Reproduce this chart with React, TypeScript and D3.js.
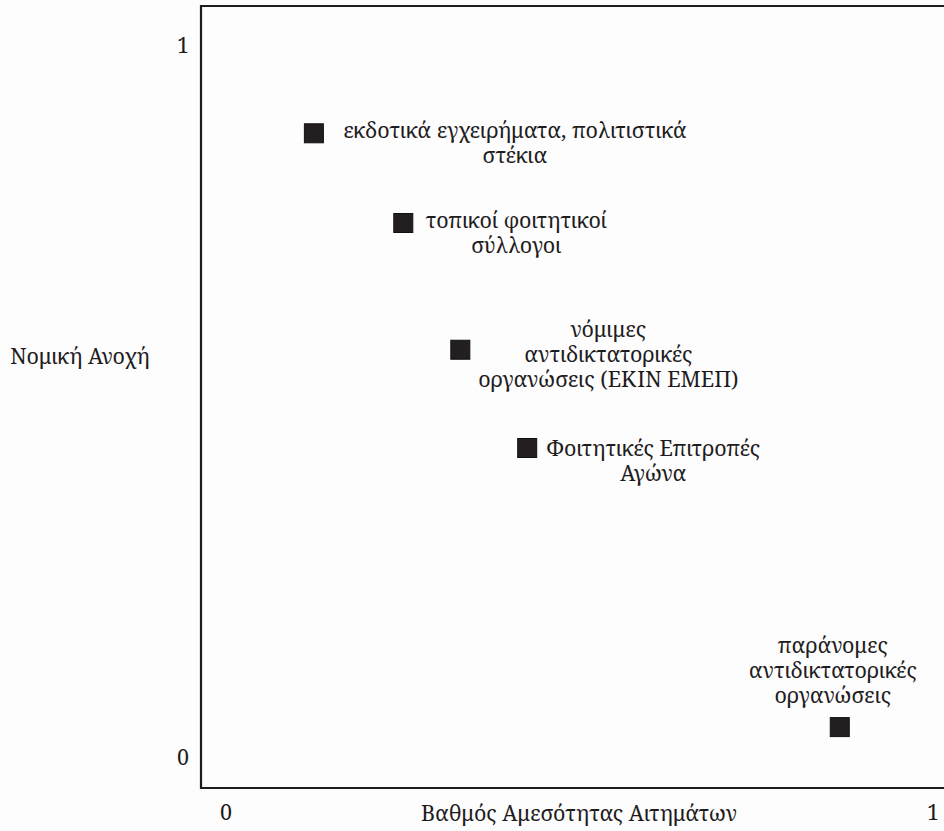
import React from "react";
import * as d3 from "d3";

const categories: string[][] = [
  ["εκδοτικά εγχειρήματα, πολιτιστικά", "στέκια"],
  ["τοπικοί φοιτητικοί", "σύλλογοι"],
  ["νόμιμες", "αντιδικτατορικές", "οργανώσεις (ΕΚΙΝ ΕΜΕΠ)"],
  ["Φοιτητικές Επιτροπές", "Αγώνα"],
  ["παράνομες", "αντιδικτατορικές", "οργανώσεις"],
];
const immediacy: number[] = [0.122, 0.249, 0.33, 0.425, 0.869];
const tolerance: number[] = [0.876, 0.75, 0.572, 0.434, 0.042];
const xTicks: number[] = [0, 1];
const yTicks: number[] = [0, 1];
const xTitle = "Βαθμός Αμεσότητας Αιτημάτων";
const yTitle = "Νομική Ανοχή";

// label placement relative to marker (layout only)
const labelLayout = [
  { dx: 201, dy: 5 },
  { dx: 113, dy: 5 },
  { dx: 148, dy: -13 },
  { dx: 126, dy: 8 },
  { dx: -7, dy: -74 },
];

const W = 944;
const H = 831;
const font = "Noto Serif";
const ink = "#1f1c1d";

export default function App() {
  const x = d3.scaleLinear().domain([0, 1]).range([228, 932]);
  const y = d3.scaleLinear().domain([0, 1]).range([757, 45]);
  const boxLeft = 201;
  const boxTop = 6;
  const boxBottom = 788;
  const size = 19;
  const lh = 25;
  const fs = 21.5;

  return (
    <svg
      width={W}
      height={H}
      style={{ position: "absolute", left: 0, top: 0, background: "#fff", fontFamily: font }}
    >
      <rect x={0} y={0} width={W} height={H} fill="#fdfdfd" />
      <path
        d={`M${W + 2},${boxTop} H${boxLeft} V${boxBottom} H${W + 2}`}
        fill="none"
        stroke={ink}
        strokeWidth={2.2}
      />
      {yTicks.map((t) => (
        <text key={"y" + t} x={183} y={y(t) + 8} fontSize={fs} textAnchor="middle" fill={ink}>
          {t}
        </text>
      ))}
      {xTicks.map((t) => (
        <text key={"x" + t} x={x(t) - 2 + t * 3} y={820} fontSize={fs} textAnchor="middle" fill={ink}>
          {t}
        </text>
      ))}
      <text x={579} y={821} fontSize={fs} textAnchor="middle" fill={ink}>
        {xTitle}
      </text>
      <text x={80} y={364} fontSize={fs} textAnchor="middle" fill={ink}>
        {yTitle}
      </text>
      {categories.map((lines, i) => {
        const cx = x(immediacy[i]);
        const cy = y(tolerance[i]);
        const L = labelLayout[i];
        return (
          <g key={i}>
            <rect
              x={cx - size / 2}
              y={cy - size / 2}
              width={size}
              height={size}
              fill="#231f20"
              stroke="#111"
              strokeWidth={1}
            />
            <text
              x={cx + L.dx}
              y={cy + L.dy}
              fontSize={fs}
              textAnchor="middle"
              fill={ink}
            >
              {lines.map((ln, j) => (
                <tspan key={j} x={cx + L.dx} dy={j === 0 ? 0 : lh}>
                  {ln}
                </tspan>
              ))}
            </text>
          </g>
        );
      })}
    </svg>
  );
}
